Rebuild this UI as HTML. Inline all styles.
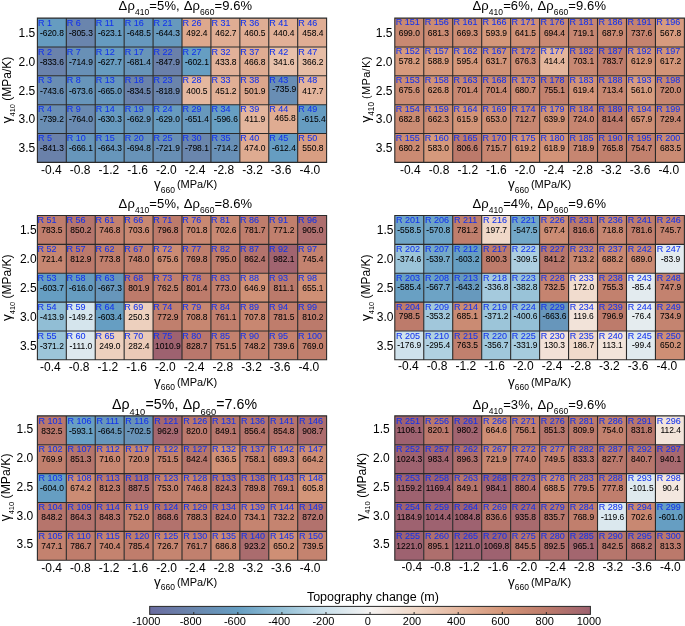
<!DOCTYPE html>
<html><head><meta charset="utf-8"><style>
html,body{margin:0;padding:0;background:#fff;width:685px;height:626px;overflow:hidden}
svg{display:block;font-family:"Liberation Sans",sans-serif;will-change:transform;filter:blur(0.3px)}
.rl{font-size:9px;fill:#1233ee;stroke:#1233ee;stroke-width:0.06px}
.vl{font-size:9px;fill:#000;stroke:#000;stroke-width:0.04px;text-anchor:middle}
.tk{font-size:12px;fill:#000}
.tt{font-size:13px;fill:#000;letter-spacing:0.1px;word-spacing:1px}
</style></head><body>
<svg width="685" height="626" viewBox="0 0 685 626">

<rect x="37.40" y="18.10" width="28.92" height="28.86" fill="#669cc0"/>
<rect x="37.40" y="46.96" width="28.92" height="28.86" fill="#6a82ab"/>
<rect x="37.40" y="75.82" width="28.92" height="28.86" fill="#698db3"/>
<rect x="37.40" y="104.68" width="28.92" height="28.86" fill="#698db3"/>
<rect x="37.40" y="133.54" width="28.92" height="28.86" fill="#6a81aa"/>
<rect x="66.32" y="18.10" width="28.92" height="28.86" fill="#6a85ad"/>
<rect x="66.32" y="46.96" width="28.92" height="28.86" fill="#6890b6"/>
<rect x="66.32" y="75.82" width="28.92" height="28.86" fill="#6795ba"/>
<rect x="66.32" y="104.68" width="28.92" height="28.86" fill="#698ab1"/>
<rect x="66.32" y="133.54" width="28.92" height="28.86" fill="#6796bb"/>
<rect x="95.24" y="18.10" width="28.92" height="28.86" fill="#669bc0"/>
<rect x="95.24" y="46.96" width="28.92" height="28.86" fill="#679bbf"/>
<rect x="95.24" y="75.82" width="28.92" height="28.86" fill="#6796bb"/>
<rect x="95.24" y="104.68" width="28.92" height="28.86" fill="#679abf"/>
<rect x="95.24" y="133.54" width="28.92" height="28.86" fill="#6796bb"/>
<rect x="124.16" y="18.10" width="28.92" height="28.86" fill="#6798bd"/>
<rect x="124.16" y="46.96" width="28.92" height="28.86" fill="#6894b9"/>
<rect x="124.16" y="75.82" width="28.92" height="28.86" fill="#6a82ab"/>
<rect x="124.16" y="104.68" width="28.92" height="28.86" fill="#6796bb"/>
<rect x="124.16" y="133.54" width="28.92" height="28.86" fill="#6893b8"/>
<rect x="153.08" y="18.10" width="28.92" height="28.86" fill="#6799bd"/>
<rect x="153.08" y="46.96" width="28.92" height="28.86" fill="#6a80aa"/>
<rect x="153.08" y="75.82" width="28.92" height="28.86" fill="#6a84ac"/>
<rect x="153.08" y="104.68" width="28.92" height="28.86" fill="#679bbf"/>
<rect x="153.08" y="133.54" width="28.92" height="28.86" fill="#688fb5"/>
<rect x="182.00" y="18.10" width="28.92" height="28.86" fill="#dda88d"/>
<rect x="182.00" y="46.96" width="28.92" height="28.86" fill="#669ec2"/>
<rect x="182.00" y="75.82" width="28.92" height="28.86" fill="#e4b79f"/>
<rect x="182.00" y="104.68" width="28.92" height="28.86" fill="#6798bd"/>
<rect x="182.00" y="133.54" width="28.92" height="28.86" fill="#6a86ad"/>
<rect x="210.92" y="18.10" width="28.92" height="28.86" fill="#dfad93"/>
<rect x="210.92" y="46.96" width="28.92" height="28.86" fill="#e1b199"/>
<rect x="210.92" y="75.82" width="28.92" height="28.86" fill="#e0af95"/>
<rect x="210.92" y="104.68" width="28.92" height="28.86" fill="#679fc2"/>
<rect x="210.92" y="133.54" width="28.92" height="28.86" fill="#6890b6"/>
<rect x="239.84" y="18.10" width="28.92" height="28.86" fill="#dfad94"/>
<rect x="239.84" y="46.96" width="28.92" height="28.86" fill="#dfac92"/>
<rect x="239.84" y="75.82" width="28.92" height="28.86" fill="#dca68c"/>
<rect x="239.84" y="104.68" width="28.92" height="28.86" fill="#e3b59d"/>
<rect x="239.84" y="133.54" width="28.92" height="28.86" fill="#deab91"/>
<rect x="268.76" y="18.10" width="28.92" height="28.86" fill="#e1b097"/>
<rect x="268.76" y="46.96" width="28.92" height="28.86" fill="#e8c1ab"/>
<rect x="268.76" y="75.82" width="28.92" height="28.86" fill="#698eb4"/>
<rect x="268.76" y="104.68" width="28.92" height="28.86" fill="#dfac92"/>
<rect x="268.76" y="133.54" width="28.92" height="28.86" fill="#669dc1"/>
<rect x="297.68" y="18.10" width="28.92" height="28.86" fill="#dfad94"/>
<rect x="297.68" y="46.96" width="28.92" height="28.86" fill="#e6bda6"/>
<rect x="297.68" y="75.82" width="28.92" height="28.86" fill="#e3b49c"/>
<rect x="297.68" y="104.68" width="28.92" height="28.86" fill="#669cc0"/>
<rect x="297.68" y="133.54" width="28.92" height="28.86" fill="#d89e82"/>
<path d="M37.40 17.60V162.90M66.32 17.60V162.90M95.24 17.60V162.90M124.16 17.60V162.90M153.08 17.60V162.90M182.00 17.60V162.90M210.92 17.60V162.90M239.84 17.60V162.90M268.76 17.60V162.90M297.68 17.60V162.90M326.60 17.60V162.90M36.90 18.10H327.10M36.90 46.96H327.10M36.90 75.82H327.10M36.90 104.68H327.10M36.90 133.54H327.10M36.90 162.40H327.10" stroke="#2a2a2a" stroke-width="1.1" fill="none"/>
<text class="rl" x="37.90" y="25.70">R 1</text>
<text class="vl" transform="translate(51.86 35.90) scale(0.94 1)">-620.8</text>
<text class="rl" x="37.90" y="54.56">R 2</text>
<text class="vl" transform="translate(51.86 64.76) scale(0.94 1)">-833.6</text>
<text class="rl" x="37.90" y="83.42">R 3</text>
<text class="vl" transform="translate(51.86 93.62) scale(0.94 1)">-743.6</text>
<text class="rl" x="37.90" y="112.28">R 4</text>
<text class="vl" transform="translate(51.86 122.48) scale(0.94 1)">-739.2</text>
<text class="rl" x="37.90" y="141.14">R 5</text>
<text class="vl" transform="translate(51.86 151.34) scale(0.94 1)">-841.3</text>
<text class="rl" x="66.82" y="25.70">R 6</text>
<text class="vl" transform="translate(80.86 35.90) scale(0.94 1)">-805.3</text>
<text class="rl" x="66.82" y="54.56">R 7</text>
<text class="vl" transform="translate(80.86 64.76) scale(0.94 1)">-714.9</text>
<text class="rl" x="66.82" y="83.42">R 8</text>
<text class="vl" transform="translate(80.86 93.62) scale(0.94 1)">-673.6</text>
<text class="rl" x="66.82" y="112.28">R 9</text>
<text class="vl" transform="translate(80.86 122.48) scale(0.94 1)">-764.0</text>
<text class="rl" x="66.82" y="141.14">R 10</text>
<text class="vl" transform="translate(80.86 151.34) scale(0.94 1)">-666.1</text>
<text class="rl" x="95.74" y="25.70">R 11</text>
<text class="vl" transform="translate(109.86 35.90) scale(0.94 1)">-623.1</text>
<text class="rl" x="95.74" y="54.56">R 12</text>
<text class="vl" transform="translate(109.86 64.76) scale(0.94 1)">-627.7</text>
<text class="rl" x="95.74" y="83.42">R 13</text>
<text class="vl" transform="translate(109.86 93.62) scale(0.94 1)">-665.0</text>
<text class="rl" x="95.74" y="112.28">R 14</text>
<text class="vl" transform="translate(109.86 122.48) scale(0.94 1)">-630.3</text>
<text class="rl" x="95.74" y="141.14">R 15</text>
<text class="vl" transform="translate(109.86 151.34) scale(0.94 1)">-664.3</text>
<text class="rl" x="124.66" y="25.70">R 16</text>
<text class="vl" transform="translate(138.86 35.90) scale(0.94 1)">-648.5</text>
<text class="rl" x="124.66" y="54.56">R 17</text>
<text class="vl" transform="translate(138.86 64.76) scale(0.94 1)">-681.4</text>
<text class="rl" x="124.66" y="83.42">R 18</text>
<text class="vl" transform="translate(138.86 93.62) scale(0.94 1)">-834.5</text>
<text class="rl" x="124.66" y="112.28">R 19</text>
<text class="vl" transform="translate(138.86 122.48) scale(0.94 1)">-662.9</text>
<text class="rl" x="124.66" y="141.14">R 20</text>
<text class="vl" transform="translate(138.86 151.34) scale(0.94 1)">-694.8</text>
<text class="rl" x="153.58" y="25.70">R 21</text>
<text class="vl" transform="translate(167.86 35.90) scale(0.94 1)">-644.3</text>
<text class="rl" x="153.58" y="54.56">R 22</text>
<text class="vl" transform="translate(167.86 64.76) scale(0.94 1)">-847.9</text>
<text class="rl" x="153.58" y="83.42">R 23</text>
<text class="vl" transform="translate(167.86 93.62) scale(0.94 1)">-818.9</text>
<text class="rl" x="153.58" y="112.28">R 24</text>
<text class="vl" transform="translate(167.86 122.48) scale(0.94 1)">-629.0</text>
<text class="rl" x="153.58" y="141.14">R 25</text>
<text class="vl" transform="translate(167.86 151.34) scale(0.94 1)">-721.9</text>
<text class="rl" x="182.50" y="25.70">R 26</text>
<text class="vl" transform="translate(196.86 35.90) scale(0.94 1)">492.4</text>
<text class="rl" x="182.50" y="54.56">R 27</text>
<text class="vl" transform="translate(196.86 64.76) scale(0.94 1)">-602.1</text>
<text class="rl" x="182.50" y="83.42">R 28</text>
<text class="vl" transform="translate(196.86 93.62) scale(0.94 1)">400.5</text>
<text class="rl" x="182.50" y="112.28">R 29</text>
<text class="vl" transform="translate(196.86 122.48) scale(0.94 1)">-651.4</text>
<text class="rl" x="182.50" y="141.14">R 30</text>
<text class="vl" transform="translate(196.86 151.34) scale(0.94 1)">-798.1</text>
<text class="rl" x="211.42" y="25.70">R 31</text>
<text class="vl" transform="translate(225.86 35.90) scale(0.94 1)">462.7</text>
<text class="rl" x="211.42" y="54.56">R 32</text>
<text class="vl" transform="translate(225.86 64.76) scale(0.94 1)">433.8</text>
<text class="rl" x="211.42" y="83.42">R 33</text>
<text class="vl" transform="translate(225.86 93.62) scale(0.94 1)">451.2</text>
<text class="rl" x="211.42" y="112.28">R 34</text>
<text class="vl" transform="translate(225.86 122.48) scale(0.94 1)">-596.6</text>
<text class="rl" x="211.42" y="141.14">R 35</text>
<text class="vl" transform="translate(225.86 151.34) scale(0.94 1)">-714.2</text>
<text class="rl" x="240.34" y="25.70">R 36</text>
<text class="vl" transform="translate(254.86 35.90) scale(0.94 1)">460.5</text>
<text class="rl" x="240.34" y="54.56">R 37</text>
<text class="vl" transform="translate(254.86 64.76) scale(0.94 1)">466.8</text>
<text class="rl" x="240.34" y="83.42">R 38</text>
<text class="vl" transform="translate(254.86 93.62) scale(0.94 1)">501.9</text>
<text class="rl" x="240.34" y="112.28">R 39</text>
<text class="vl" transform="translate(254.86 122.48) scale(0.94 1)">411.9</text>
<text class="rl" x="240.34" y="141.14">R 40</text>
<text class="vl" transform="translate(254.86 151.34) scale(0.94 1)">474.0</text>
<text class="rl" x="269.26" y="25.70">R 41</text>
<text class="vl" transform="translate(283.86 35.90) scale(0.94 1)">440.4</text>
<text class="rl" x="269.26" y="54.56">R 42</text>
<text class="vl" transform="translate(283.86 64.76) scale(0.94 1)">341.6</text>
<text class="rl" x="269.26" y="83.42">R 43</text>
<text class="vl" transform="translate(284.21 91.62) scale(0.94 1)">-735.9</text>
<text class="rl" x="269.26" y="112.28">R 44</text>
<text class="vl" transform="translate(285.16 120.98) scale(0.94 1)">465.8</text>
<text class="rl" x="269.26" y="141.14">R 45</text>
<text class="vl" transform="translate(283.86 151.34) scale(0.94 1)">-612.4</text>
<text class="rl" x="298.18" y="25.70">R 46</text>
<text class="vl" transform="translate(312.86 35.90) scale(0.94 1)">458.4</text>
<text class="rl" x="298.18" y="54.56">R 47</text>
<text class="vl" transform="translate(312.86 64.76) scale(0.94 1)">366.2</text>
<text class="rl" x="298.18" y="83.42">R 48</text>
<text class="vl" transform="translate(312.86 93.62) scale(0.94 1)">417.7</text>
<text class="rl" x="298.18" y="112.28">R 49</text>
<text class="vl" transform="translate(313.66 122.48) scale(0.94 1)">-615.4</text>
<text class="rl" x="298.18" y="141.14">R 50</text>
<text class="vl" transform="translate(312.86 151.34) scale(0.94 1)">550.8</text>
<text class="tk" text-anchor="middle" x="51.45" y="173.60">-0.4</text>
<text class="tk" text-anchor="middle" x="80.17" y="173.60">-0.8</text>
<text class="tk" text-anchor="middle" x="108.89" y="173.60">-1.2</text>
<text class="tk" text-anchor="middle" x="137.61" y="173.60">-1.6</text>
<text class="tk" text-anchor="middle" x="166.33" y="173.60">-2.0</text>
<text class="tk" text-anchor="middle" x="195.05" y="173.60">-2.4</text>
<text class="tk" text-anchor="middle" x="223.77" y="173.60">-2.8</text>
<text class="tk" text-anchor="middle" x="252.49" y="173.60">-3.2</text>
<text class="tk" text-anchor="middle" x="281.21" y="173.60">-3.6</text>
<text class="tk" text-anchor="middle" x="309.93" y="173.60">-4.0</text>
<text class="tk" text-anchor="end" x="35.20" y="36.83">1.5</text>
<text class="tk" text-anchor="end" x="35.20" y="65.69">2.0</text>
<text class="tk" text-anchor="end" x="35.20" y="94.55">2.5</text>
<text class="tk" text-anchor="end" x="35.20" y="123.41">3.0</text>
<text class="tk" text-anchor="end" x="35.20" y="152.27">3.5</text>
<text x="154.10" y="188.20" fill="#000"><tspan font-size="13.5">γ</tspan><tspan font-size="8.5" dy="4.3">660</tspan><tspan font-size="11" dx="-1.2" dy="-4.3"> (MPa/K)</tspan></text>
<text transform="translate(11.40 90.00) rotate(-90) scale(1.000)" text-anchor="middle" fill="#000"><tspan font-size="13.5">γ</tspan><tspan font-size="7.4" dy="3.6">410</tspan><tspan font-size="12" dy="-3.6"> (MPa/K)</tspan></text>
<text class="tt" x="118.60" y="10.00" style="font-size:13.00px">Δρ<tspan font-size="8.50" dy="5.00">410</tspan><tspan dy="-5.00">=5%, Δρ</tspan><tspan font-size="8.50" dy="5.00">660</tspan><tspan dy="-5.00">=9.6%</tspan></text>
<rect x="394.80" y="18.10" width="28.96" height="28.86" fill="#c98972"/>
<rect x="394.80" y="46.96" width="28.96" height="28.86" fill="#d69a7d"/>
<rect x="394.80" y="75.82" width="28.96" height="28.86" fill="#cb8c74"/>
<rect x="394.80" y="104.68" width="28.96" height="28.86" fill="#ca8b73"/>
<rect x="394.80" y="133.54" width="28.96" height="28.86" fill="#cb8b73"/>
<rect x="423.76" y="18.10" width="28.96" height="28.86" fill="#cb8b73"/>
<rect x="423.76" y="46.96" width="28.96" height="28.86" fill="#d5987b"/>
<rect x="423.76" y="75.82" width="28.96" height="28.86" fill="#d19277"/>
<rect x="423.76" y="104.68" width="28.96" height="28.86" fill="#cd8e75"/>
<rect x="423.76" y="133.54" width="28.96" height="28.86" fill="#d5997c"/>
<rect x="452.72" y="18.10" width="28.96" height="28.86" fill="#cc8d74"/>
<rect x="452.72" y="46.96" width="28.96" height="28.86" fill="#d4977a"/>
<rect x="452.72" y="75.82" width="28.96" height="28.86" fill="#c88872"/>
<rect x="452.72" y="104.68" width="28.96" height="28.86" fill="#d29478"/>
<rect x="452.72" y="133.54" width="28.96" height="28.86" fill="#bc7a6b"/>
<rect x="481.68" y="18.10" width="28.96" height="28.86" fill="#d4977a"/>
<rect x="481.68" y="46.96" width="28.96" height="28.86" fill="#d09277"/>
<rect x="481.68" y="75.82" width="28.96" height="28.86" fill="#c88872"/>
<rect x="481.68" y="104.68" width="28.96" height="28.86" fill="#ce8f75"/>
<rect x="481.68" y="133.54" width="28.96" height="28.86" fill="#c78671"/>
<rect x="510.64" y="18.10" width="28.96" height="28.86" fill="#cf9076"/>
<rect x="510.64" y="46.96" width="28.96" height="28.86" fill="#cb8c74"/>
<rect x="510.64" y="75.82" width="28.96" height="28.86" fill="#cb8b73"/>
<rect x="510.64" y="104.68" width="28.96" height="28.86" fill="#c78771"/>
<rect x="510.64" y="133.54" width="28.96" height="28.86" fill="#d29378"/>
<rect x="539.60" y="18.10" width="28.96" height="28.86" fill="#c98972"/>
<rect x="539.60" y="46.96" width="28.96" height="28.86" fill="#e3b59c"/>
<rect x="539.60" y="75.82" width="28.96" height="28.86" fill="#c2816e"/>
<rect x="539.60" y="104.68" width="28.96" height="28.86" fill="#cf9176"/>
<rect x="539.60" y="133.54" width="28.96" height="28.86" fill="#d29378"/>
<rect x="568.56" y="18.10" width="28.96" height="28.86" fill="#c68671"/>
<rect x="568.56" y="46.96" width="28.96" height="28.86" fill="#c88872"/>
<rect x="568.56" y="75.82" width="28.96" height="28.86" fill="#d29378"/>
<rect x="568.56" y="104.68" width="28.96" height="28.86" fill="#c68570"/>
<rect x="568.56" y="133.54" width="28.96" height="28.86" fill="#c68671"/>
<rect x="597.52" y="18.10" width="28.96" height="28.86" fill="#ca8a73"/>
<rect x="597.52" y="46.96" width="28.96" height="28.86" fill="#bf7d6c"/>
<rect x="597.52" y="75.82" width="28.96" height="28.86" fill="#c78771"/>
<rect x="597.52" y="104.68" width="28.96" height="28.86" fill="#bb796b"/>
<rect x="597.52" y="133.54" width="28.96" height="28.86" fill="#c1806d"/>
<rect x="626.48" y="18.10" width="28.96" height="28.86" fill="#c4836f"/>
<rect x="626.48" y="46.96" width="28.96" height="28.86" fill="#d39478"/>
<rect x="626.48" y="75.82" width="28.96" height="28.86" fill="#d79c80"/>
<rect x="626.48" y="104.68" width="28.96" height="28.86" fill="#cd8e75"/>
<rect x="626.48" y="133.54" width="28.96" height="28.86" fill="#c2816e"/>
<rect x="655.44" y="18.10" width="28.96" height="28.86" fill="#d79b7f"/>
<rect x="655.44" y="46.96" width="28.96" height="28.86" fill="#d29478"/>
<rect x="655.44" y="75.82" width="28.96" height="28.86" fill="#c68671"/>
<rect x="655.44" y="104.68" width="28.96" height="28.86" fill="#c58570"/>
<rect x="655.44" y="133.54" width="28.96" height="28.86" fill="#ca8b73"/>
<path d="M394.80 17.60V162.90M423.76 17.60V162.90M452.72 17.60V162.90M481.68 17.60V162.90M510.64 17.60V162.90M539.60 17.60V162.90M568.56 17.60V162.90M597.52 17.60V162.90M626.48 17.60V162.90M655.44 17.60V162.90M684.40 17.60V162.90M394.30 18.10H684.90M394.30 46.96H684.90M394.30 75.82H684.90M394.30 104.68H684.90M394.30 133.54H684.90M394.30 162.40H684.90" stroke="#2a2a2a" stroke-width="1.1" fill="none"/>
<text class="rl" x="395.70" y="25.10">R 151</text>
<text class="vl" transform="translate(409.28 35.60) scale(0.94 1)">699.0</text>
<text class="rl" x="395.70" y="53.96">R 152</text>
<text class="vl" transform="translate(409.28 64.46) scale(0.94 1)">578.2</text>
<text class="rl" x="395.70" y="82.82">R 153</text>
<text class="vl" transform="translate(409.28 93.32) scale(0.94 1)">675.6</text>
<text class="rl" x="395.70" y="111.68">R 154</text>
<text class="vl" transform="translate(409.28 122.18) scale(0.94 1)">682.8</text>
<text class="rl" x="395.70" y="140.54">R 155</text>
<text class="vl" transform="translate(409.28 151.04) scale(0.94 1)">680.2</text>
<text class="rl" x="424.66" y="25.10">R 156</text>
<text class="vl" transform="translate(438.32 35.60) scale(0.94 1)">681.3</text>
<text class="rl" x="424.66" y="53.96">R 157</text>
<text class="vl" transform="translate(438.32 64.46) scale(0.94 1)">588.9</text>
<text class="rl" x="424.66" y="82.82">R 158</text>
<text class="vl" transform="translate(438.32 93.32) scale(0.94 1)">626.8</text>
<text class="rl" x="424.66" y="111.68">R 159</text>
<text class="vl" transform="translate(438.32 122.18) scale(0.94 1)">662.3</text>
<text class="rl" x="424.66" y="140.54">R 160</text>
<text class="vl" transform="translate(438.32 151.04) scale(0.94 1)">583.0</text>
<text class="rl" x="453.62" y="25.10">R 161</text>
<text class="vl" transform="translate(467.36 35.60) scale(0.94 1)">669.3</text>
<text class="rl" x="453.62" y="53.96">R 162</text>
<text class="vl" transform="translate(467.36 64.46) scale(0.94 1)">595.4</text>
<text class="rl" x="453.62" y="82.82">R 163</text>
<text class="vl" transform="translate(467.36 93.32) scale(0.94 1)">701.4</text>
<text class="rl" x="453.62" y="111.68">R 164</text>
<text class="vl" transform="translate(467.36 122.18) scale(0.94 1)">615.9</text>
<text class="rl" x="453.62" y="140.54">R 165</text>
<text class="vl" transform="translate(467.36 151.04) scale(0.94 1)">806.6</text>
<text class="rl" x="482.58" y="25.10">R 166</text>
<text class="vl" transform="translate(496.40 35.60) scale(0.94 1)">593.9</text>
<text class="rl" x="482.58" y="53.96">R 167</text>
<text class="vl" transform="translate(496.40 64.46) scale(0.94 1)">631.7</text>
<text class="rl" x="482.58" y="82.82">R 168</text>
<text class="vl" transform="translate(496.40 93.32) scale(0.94 1)">701.4</text>
<text class="rl" x="482.58" y="111.68">R 169</text>
<text class="vl" transform="translate(496.40 122.18) scale(0.94 1)">653.0</text>
<text class="rl" x="482.58" y="140.54">R 170</text>
<text class="vl" transform="translate(496.40 151.04) scale(0.94 1)">715.7</text>
<text class="rl" x="511.54" y="25.10">R 171</text>
<text class="vl" transform="translate(525.44 35.60) scale(0.94 1)">641.5</text>
<text class="rl" x="511.54" y="53.96">R 172</text>
<text class="vl" transform="translate(525.44 64.46) scale(0.94 1)">676.3</text>
<text class="rl" x="511.54" y="82.82">R 173</text>
<text class="vl" transform="translate(525.44 93.32) scale(0.94 1)">680.7</text>
<text class="rl" x="511.54" y="111.68">R 174</text>
<text class="vl" transform="translate(525.44 122.18) scale(0.94 1)">712.7</text>
<text class="rl" x="511.54" y="140.54">R 175</text>
<text class="vl" transform="translate(525.44 151.04) scale(0.94 1)">619.2</text>
<text class="rl" x="540.50" y="25.10">R 176</text>
<text class="vl" transform="translate(554.48 35.60) scale(0.94 1)">694.4</text>
<text class="rl" x="540.50" y="53.96">R 177</text>
<text class="vl" transform="translate(554.48 64.46) scale(0.94 1)">414.4</text>
<text class="rl" x="540.50" y="82.82">R 178</text>
<text class="vl" transform="translate(554.48 93.32) scale(0.94 1)">755.1</text>
<text class="rl" x="540.50" y="111.68">R 179</text>
<text class="vl" transform="translate(554.48 122.18) scale(0.94 1)">639.9</text>
<text class="rl" x="540.50" y="140.54">R 180</text>
<text class="vl" transform="translate(554.48 151.04) scale(0.94 1)">618.9</text>
<text class="rl" x="569.46" y="25.10">R 181</text>
<text class="vl" transform="translate(583.52 35.60) scale(0.94 1)">719.1</text>
<text class="rl" x="569.46" y="53.96">R 182</text>
<text class="vl" transform="translate(583.52 64.46) scale(0.94 1)">703.1</text>
<text class="rl" x="569.46" y="82.82">R 183</text>
<text class="vl" transform="translate(583.52 93.32) scale(0.94 1)">619.4</text>
<text class="rl" x="569.46" y="111.68">R 184</text>
<text class="vl" transform="translate(583.52 122.18) scale(0.94 1)">724.0</text>
<text class="rl" x="569.46" y="140.54">R 185</text>
<text class="vl" transform="translate(583.52 151.04) scale(0.94 1)">718.9</text>
<text class="rl" x="598.42" y="25.10">R 186</text>
<text class="vl" transform="translate(612.56 35.60) scale(0.94 1)">687.9</text>
<text class="rl" x="598.42" y="53.96">R 187</text>
<text class="vl" transform="translate(612.56 64.46) scale(0.94 1)">783.7</text>
<text class="rl" x="598.42" y="82.82">R 188</text>
<text class="vl" transform="translate(612.56 93.32) scale(0.94 1)">713.4</text>
<text class="rl" x="598.42" y="111.68">R 189</text>
<text class="vl" transform="translate(612.56 122.18) scale(0.94 1)">814.4</text>
<text class="rl" x="598.42" y="140.54">R 190</text>
<text class="vl" transform="translate(612.56 151.04) scale(0.94 1)">765.8</text>
<text class="rl" x="627.38" y="25.10">R 191</text>
<text class="vl" transform="translate(641.60 35.60) scale(0.94 1)">737.6</text>
<text class="rl" x="627.38" y="53.96">R 192</text>
<text class="vl" transform="translate(641.60 64.46) scale(0.94 1)">612.9</text>
<text class="rl" x="627.38" y="82.82">R 193</text>
<text class="vl" transform="translate(641.60 93.32) scale(0.94 1)">561.0</text>
<text class="rl" x="627.38" y="111.68">R 194</text>
<text class="vl" transform="translate(641.60 122.18) scale(0.94 1)">657.9</text>
<text class="rl" x="627.38" y="140.54">R 195</text>
<text class="vl" transform="translate(641.60 151.04) scale(0.94 1)">754.7</text>
<text class="rl" x="656.34" y="25.10">R 196</text>
<text class="vl" transform="translate(670.64 35.60) scale(0.94 1)">567.8</text>
<text class="rl" x="656.34" y="53.96">R 197</text>
<text class="vl" transform="translate(670.64 64.46) scale(0.94 1)">617.2</text>
<text class="rl" x="656.34" y="82.82">R 198</text>
<text class="vl" transform="translate(670.64 93.32) scale(0.94 1)">720.0</text>
<text class="rl" x="656.34" y="111.68">R 199</text>
<text class="vl" transform="translate(670.64 122.18) scale(0.94 1)">729.4</text>
<text class="rl" x="656.34" y="140.54">R 200</text>
<text class="vl" transform="translate(670.64 151.04) scale(0.94 1)">683.5</text>
<text class="tk" text-anchor="middle" x="410.30" y="173.80">-0.4</text>
<text class="tk" text-anchor="middle" x="439.02" y="173.80">-0.8</text>
<text class="tk" text-anchor="middle" x="467.74" y="173.80">-1.2</text>
<text class="tk" text-anchor="middle" x="496.46" y="173.80">-1.6</text>
<text class="tk" text-anchor="middle" x="525.18" y="173.80">-2.0</text>
<text class="tk" text-anchor="middle" x="553.90" y="173.80">-2.4</text>
<text class="tk" text-anchor="middle" x="582.62" y="173.80">-2.8</text>
<text class="tk" text-anchor="middle" x="611.34" y="173.80">-3.2</text>
<text class="tk" text-anchor="middle" x="640.06" y="173.80">-3.6</text>
<text class="tk" text-anchor="middle" x="668.78" y="173.80">-4.0</text>
<text class="tk" text-anchor="end" x="392.40" y="36.83">1.5</text>
<text class="tk" text-anchor="end" x="392.40" y="65.69">2.0</text>
<text class="tk" text-anchor="end" x="392.40" y="94.55">2.5</text>
<text class="tk" text-anchor="end" x="392.40" y="123.41">3.0</text>
<text class="tk" text-anchor="end" x="392.40" y="152.27">3.5</text>
<text x="508.10" y="188.20" fill="#000"><tspan font-size="13.5">γ</tspan><tspan font-size="8.5" dy="4.3">660</tspan><tspan font-size="11" dx="-1.2" dy="-4.3"> (MPa/K)</tspan></text>
<text transform="translate(369.70 89.40) rotate(-90) scale(1.000)" text-anchor="middle" fill="#000"><tspan font-size="13.5">γ</tspan><tspan font-size="8.3" dy="4.2">410</tspan><tspan font-size="11" letter-spacing="0.35" dx="-0.6" dy="-4.2"> (MPa/K)</tspan></text>
<text class="tt" x="472.40" y="10.00" style="font-size:13.00px">Δρ<tspan font-size="8.50" dy="5.00">410</tspan><tspan dy="-5.00">=6%, Δρ</tspan><tspan font-size="8.50" dy="5.00">660</tspan><tspan dy="-5.00">=9.6%</tspan></text>
<rect x="37.40" y="215.50" width="28.92" height="28.86" fill="#bf7d6c"/>
<rect x="37.40" y="244.36" width="28.92" height="28.86" fill="#c68671"/>
<rect x="37.40" y="273.22" width="28.92" height="28.86" fill="#669ec2"/>
<rect x="37.40" y="302.08" width="28.92" height="28.86" fill="#91bed5"/>
<rect x="37.40" y="330.94" width="28.92" height="28.86" fill="#9cc5d9"/>
<rect x="66.32" y="215.50" width="28.92" height="28.86" fill="#b5756c"/>
<rect x="66.32" y="244.36" width="28.92" height="28.86" fill="#bb796b"/>
<rect x="66.32" y="273.22" width="28.92" height="28.86" fill="#669cc0"/>
<rect x="66.32" y="302.08" width="28.92" height="28.86" fill="#d5e5ed"/>
<rect x="66.32" y="330.94" width="28.92" height="28.86" fill="#dde8ee"/>
<rect x="95.24" y="215.50" width="28.92" height="28.86" fill="#c3826f"/>
<rect x="95.24" y="244.36" width="28.92" height="28.86" fill="#c07f6d"/>
<rect x="95.24" y="273.22" width="28.92" height="28.86" fill="#6796bb"/>
<rect x="95.24" y="302.08" width="28.92" height="28.86" fill="#669ec2"/>
<rect x="95.24" y="330.94" width="28.92" height="28.86" fill="#edd0be"/>
<rect x="124.16" y="215.50" width="28.92" height="28.86" fill="#c88872"/>
<rect x="124.16" y="244.36" width="28.92" height="28.86" fill="#c3826f"/>
<rect x="124.16" y="273.22" width="28.92" height="28.86" fill="#bd7b6b"/>
<rect x="124.16" y="302.08" width="28.92" height="28.86" fill="#edd0be"/>
<rect x="124.16" y="330.94" width="28.92" height="28.86" fill="#ebcab7"/>
<rect x="153.08" y="215.50" width="28.92" height="28.86" fill="#bd7b6b"/>
<rect x="153.08" y="244.36" width="28.92" height="28.86" fill="#cb8c74"/>
<rect x="153.08" y="273.22" width="28.92" height="28.86" fill="#c1806e"/>
<rect x="153.08" y="302.08" width="28.92" height="28.86" fill="#c07f6d"/>
<rect x="153.08" y="330.94" width="28.92" height="28.86" fill="#9e6270"/>
<rect x="182.00" y="215.50" width="28.92" height="28.86" fill="#c88872"/>
<rect x="182.00" y="244.36" width="28.92" height="28.86" fill="#c07f6d"/>
<rect x="182.00" y="273.22" width="28.92" height="28.86" fill="#bd7b6b"/>
<rect x="182.00" y="302.08" width="28.92" height="28.86" fill="#c78771"/>
<rect x="182.00" y="330.94" width="28.92" height="28.86" fill="#b9776c"/>
<rect x="210.92" y="215.50" width="28.92" height="28.86" fill="#c88872"/>
<rect x="210.92" y="244.36" width="28.92" height="28.86" fill="#be7c6b"/>
<rect x="210.92" y="273.22" width="28.92" height="28.86" fill="#c07f6d"/>
<rect x="210.92" y="302.08" width="28.92" height="28.86" fill="#c1806e"/>
<rect x="210.92" y="330.94" width="28.92" height="28.86" fill="#c3826e"/>
<rect x="239.84" y="215.50" width="28.92" height="28.86" fill="#bf7d6c"/>
<rect x="239.84" y="244.36" width="28.92" height="28.86" fill="#b3736d"/>
<rect x="239.84" y="273.22" width="28.92" height="28.86" fill="#cf9076"/>
<rect x="239.84" y="302.08" width="28.92" height="28.86" fill="#c88771"/>
<rect x="239.84" y="330.94" width="28.92" height="28.86" fill="#c3826f"/>
<rect x="268.76" y="215.50" width="28.92" height="28.86" fill="#c07f6d"/>
<rect x="268.76" y="244.36" width="28.92" height="28.86" fill="#a16470"/>
<rect x="268.76" y="273.22" width="28.92" height="28.86" fill="#bb7a6b"/>
<rect x="268.76" y="302.08" width="28.92" height="28.86" fill="#bf7d6c"/>
<rect x="268.76" y="330.94" width="28.92" height="28.86" fill="#c4836f"/>
<rect x="297.68" y="215.50" width="28.92" height="28.86" fill="#ad6e6e"/>
<rect x="297.68" y="244.36" width="28.92" height="28.86" fill="#c3826f"/>
<rect x="297.68" y="273.22" width="28.92" height="28.86" fill="#ce8f75"/>
<rect x="297.68" y="302.08" width="28.92" height="28.86" fill="#bb7a6b"/>
<rect x="297.68" y="330.94" width="28.92" height="28.86" fill="#c17f6d"/>
<path d="M37.40 215.00V360.30M66.32 215.00V360.30M95.24 215.00V360.30M124.16 215.00V360.30M153.08 215.00V360.30M182.00 215.00V360.30M210.92 215.00V360.30M239.84 215.00V360.30M268.76 215.00V360.30M297.68 215.00V360.30M326.60 215.00V360.30M36.90 215.50H327.10M36.90 244.36H327.10M36.90 273.22H327.10M36.90 302.08H327.10M36.90 330.94H327.10M36.90 359.80H327.10" stroke="#2a2a2a" stroke-width="1.1" fill="none"/>
<text class="rl" x="37.60" y="223.10">R 51</text>
<text class="vl" transform="translate(51.86 233.30) scale(0.94 1)">783.5</text>
<text class="rl" x="37.60" y="251.96">R 52</text>
<text class="vl" transform="translate(51.86 262.16) scale(0.94 1)">721.4</text>
<text class="rl" x="37.60" y="280.82">R 53</text>
<text class="vl" transform="translate(51.86 291.02) scale(0.94 1)">-603.7</text>
<text class="rl" x="37.60" y="309.68">R 54</text>
<text class="vl" transform="translate(51.86 319.88) scale(0.94 1)">-413.9</text>
<text class="rl" x="37.60" y="338.54">R 55</text>
<text class="vl" transform="translate(51.86 348.74) scale(0.94 1)">-371.2</text>
<text class="rl" x="66.52" y="223.10">R 56</text>
<text class="vl" transform="translate(80.86 233.30) scale(0.94 1)">850.2</text>
<text class="rl" x="66.52" y="251.96">R 57</text>
<text class="vl" transform="translate(80.86 262.16) scale(0.94 1)">812.9</text>
<text class="rl" x="66.52" y="280.82">R 58</text>
<text class="vl" transform="translate(80.86 291.02) scale(0.94 1)">-616.0</text>
<text class="rl" x="66.52" y="309.68">R 59</text>
<text class="vl" transform="translate(80.86 319.88) scale(0.94 1)">-149.2</text>
<text class="rl" x="66.52" y="338.54">R 60</text>
<text class="vl" transform="translate(80.86 348.74) scale(0.94 1)">-111.0</text>
<text class="rl" x="95.44" y="223.10">R 61</text>
<text class="vl" transform="translate(109.86 233.30) scale(0.94 1)">746.8</text>
<text class="rl" x="95.44" y="251.96">R 62</text>
<text class="vl" transform="translate(109.86 262.16) scale(0.94 1)">773.8</text>
<text class="rl" x="95.44" y="280.82">R 63</text>
<text class="vl" transform="translate(109.86 291.02) scale(0.94 1)">-667.3</text>
<text class="rl" x="95.44" y="309.68">R 64</text>
<text class="vl" transform="translate(109.86 319.88) scale(0.94 1)">-603.4</text>
<text class="rl" x="95.44" y="338.54">R 65</text>
<text class="vl" transform="translate(109.86 348.74) scale(0.94 1)">249.0</text>
<text class="rl" x="124.36" y="223.10">R 66</text>
<text class="vl" transform="translate(138.86 233.30) scale(0.94 1)">703.6</text>
<text class="rl" x="124.36" y="251.96">R 67</text>
<text class="vl" transform="translate(138.86 262.16) scale(0.94 1)">748.0</text>
<text class="rl" x="124.36" y="280.82">R 68</text>
<text class="vl" transform="translate(138.86 291.02) scale(0.94 1)">801.9</text>
<text class="rl" x="124.36" y="309.68">R 69</text>
<text class="vl" transform="translate(138.86 319.88) scale(0.94 1)">250.3</text>
<text class="rl" x="124.36" y="338.54">R 70</text>
<text class="vl" transform="translate(138.86 348.74) scale(0.94 1)">282.4</text>
<text class="rl" x="153.28" y="223.10">R 71</text>
<text class="vl" transform="translate(167.86 233.30) scale(0.94 1)">796.8</text>
<text class="rl" x="153.28" y="251.96">R 72</text>
<text class="vl" transform="translate(167.86 262.16) scale(0.94 1)">675.6</text>
<text class="rl" x="153.28" y="280.82">R 73</text>
<text class="vl" transform="translate(167.86 291.02) scale(0.94 1)">762.5</text>
<text class="rl" x="153.28" y="309.68">R 74</text>
<text class="vl" transform="translate(167.86 319.88) scale(0.94 1)">772.9</text>
<text class="rl" x="153.28" y="338.54">R 75</text>
<text class="vl" transform="translate(167.86 348.74) scale(0.94 1)">1010.9</text>
<text class="rl" x="182.20" y="223.10">R 76</text>
<text class="vl" transform="translate(196.86 233.30) scale(0.94 1)">701.8</text>
<text class="rl" x="182.20" y="251.96">R 77</text>
<text class="vl" transform="translate(196.86 262.16) scale(0.94 1)">769.8</text>
<text class="rl" x="182.20" y="280.82">R 78</text>
<text class="vl" transform="translate(196.86 291.02) scale(0.94 1)">801.4</text>
<text class="rl" x="182.20" y="309.68">R 79</text>
<text class="vl" transform="translate(196.86 319.88) scale(0.94 1)">708.8</text>
<text class="rl" x="182.20" y="338.54">R 80</text>
<text class="vl" transform="translate(196.86 348.74) scale(0.94 1)">828.7</text>
<text class="rl" x="211.12" y="223.10">R 81</text>
<text class="vl" transform="translate(225.86 233.30) scale(0.94 1)">702.6</text>
<text class="rl" x="211.12" y="251.96">R 82</text>
<text class="vl" transform="translate(225.86 262.16) scale(0.94 1)">795.0</text>
<text class="rl" x="211.12" y="280.82">R 83</text>
<text class="vl" transform="translate(225.86 291.02) scale(0.94 1)">773.0</text>
<text class="rl" x="211.12" y="309.68">R 84</text>
<text class="vl" transform="translate(225.86 319.88) scale(0.94 1)">761.1</text>
<text class="rl" x="211.12" y="338.54">R 85</text>
<text class="vl" transform="translate(225.86 348.74) scale(0.94 1)">751.5</text>
<text class="rl" x="240.04" y="223.10">R 86</text>
<text class="vl" transform="translate(254.86 233.30) scale(0.94 1)">781.7</text>
<text class="rl" x="240.04" y="251.96">R 87</text>
<text class="vl" transform="translate(254.86 262.16) scale(0.94 1)">862.4</text>
<text class="rl" x="240.04" y="280.82">R 88</text>
<text class="vl" transform="translate(254.86 291.02) scale(0.94 1)">646.9</text>
<text class="rl" x="240.04" y="309.68">R 89</text>
<text class="vl" transform="translate(254.86 319.88) scale(0.94 1)">707.8</text>
<text class="rl" x="240.04" y="338.54">R 90</text>
<text class="vl" transform="translate(254.86 348.74) scale(0.94 1)">748.2</text>
<text class="rl" x="268.96" y="223.10">R 91</text>
<text class="vl" transform="translate(283.86 233.30) scale(0.94 1)">771.2</text>
<text class="rl" x="268.96" y="251.96">R 92</text>
<text class="vl" transform="translate(283.86 262.16) scale(0.94 1)">982.1</text>
<text class="rl" x="268.96" y="280.82">R 93</text>
<text class="vl" transform="translate(283.86 291.02) scale(0.94 1)">811.1</text>
<text class="rl" x="268.96" y="309.68">R 94</text>
<text class="vl" transform="translate(283.86 319.88) scale(0.94 1)">781.5</text>
<text class="rl" x="268.96" y="338.54">R 95</text>
<text class="vl" transform="translate(283.86 348.74) scale(0.94 1)">739.6</text>
<text class="rl" x="297.88" y="223.10">R 96</text>
<text class="vl" transform="translate(312.86 233.30) scale(0.94 1)">905.0</text>
<text class="rl" x="297.88" y="251.96">R 97</text>
<text class="vl" transform="translate(312.86 262.16) scale(0.94 1)">745.4</text>
<text class="rl" x="297.88" y="280.82">R 98</text>
<text class="vl" transform="translate(312.86 291.02) scale(0.94 1)">655.1</text>
<text class="rl" x="297.88" y="309.68">R 99</text>
<text class="vl" transform="translate(312.86 319.88) scale(0.94 1)">810.2</text>
<text class="rl" x="297.88" y="338.54">R 100</text>
<text class="vl" transform="translate(312.86 348.74) scale(0.94 1)">769.0</text>
<text class="tk" text-anchor="middle" x="50.45" y="370.70">-0.4</text>
<text class="tk" text-anchor="middle" x="79.17" y="370.70">-0.8</text>
<text class="tk" text-anchor="middle" x="107.89" y="370.70">-1.2</text>
<text class="tk" text-anchor="middle" x="136.61" y="370.70">-1.6</text>
<text class="tk" text-anchor="middle" x="165.33" y="370.70">-2.0</text>
<text class="tk" text-anchor="middle" x="194.05" y="370.70">-2.4</text>
<text class="tk" text-anchor="middle" x="222.77" y="370.70">-2.8</text>
<text class="tk" text-anchor="middle" x="251.49" y="370.70">-3.2</text>
<text class="tk" text-anchor="middle" x="280.21" y="370.70">-3.6</text>
<text class="tk" text-anchor="middle" x="308.93" y="370.70">-4.0</text>
<text class="tk" text-anchor="end" x="36.60" y="234.23">1.5</text>
<text class="tk" text-anchor="end" x="36.60" y="263.09">2.0</text>
<text class="tk" text-anchor="end" x="36.60" y="291.95">2.5</text>
<text class="tk" text-anchor="end" x="36.60" y="320.81">3.0</text>
<text class="tk" text-anchor="end" x="36.60" y="349.67">3.5</text>
<text x="154.10" y="385.60" fill="#000"><tspan font-size="13.5">γ</tspan><tspan font-size="8.5" dy="4.3">660</tspan><tspan font-size="11" dx="-1.2" dy="-4.3"> (MPa/K)</tspan></text>
<text transform="translate(11.40 287.75) rotate(-90) scale(1.000)" text-anchor="middle" fill="#000"><tspan font-size="13.5">γ</tspan><tspan font-size="7.4" dy="3.6">410</tspan><tspan font-size="12" dy="-3.6"> (MPa/K)</tspan></text>
<text class="tt" x="118.60" y="207.50" style="font-size:13.00px">Δρ<tspan font-size="8.50" dy="5.00">410</tspan><tspan dy="-5.00">=5%, Δρ</tspan><tspan font-size="8.50" dy="5.00">660</tspan><tspan dy="-5.00">=8.6%</tspan></text>
<rect x="394.80" y="215.50" width="28.96" height="28.86" fill="#70a5c6"/>
<rect x="394.80" y="244.36" width="28.96" height="28.86" fill="#9bc4d9"/>
<rect x="394.80" y="273.22" width="28.96" height="28.86" fill="#69a0c3"/>
<rect x="394.80" y="302.08" width="28.96" height="28.86" fill="#bd7b6b"/>
<rect x="394.80" y="330.94" width="28.96" height="28.86" fill="#cfe2ec"/>
<rect x="423.76" y="215.50" width="28.96" height="28.86" fill="#6da3c5"/>
<rect x="423.76" y="244.36" width="28.96" height="28.86" fill="#74a8c8"/>
<rect x="423.76" y="273.22" width="28.96" height="28.86" fill="#6da3c5"/>
<rect x="423.76" y="302.08" width="28.96" height="28.86" fill="#a1c7db"/>
<rect x="423.76" y="330.94" width="28.96" height="28.86" fill="#b0d1e1"/>
<rect x="452.72" y="215.50" width="28.96" height="28.86" fill="#bf7e6c"/>
<rect x="452.72" y="244.36" width="28.96" height="28.86" fill="#669ec2"/>
<rect x="452.72" y="273.22" width="28.96" height="28.86" fill="#6799bd"/>
<rect x="452.72" y="302.08" width="28.96" height="28.86" fill="#ca8b73"/>
<rect x="452.72" y="330.94" width="28.96" height="28.86" fill="#c1806e"/>
<rect x="481.68" y="215.50" width="28.96" height="28.86" fill="#f0d8c8"/>
<rect x="481.68" y="244.36" width="28.96" height="28.86" fill="#bd7b6b"/>
<rect x="481.68" y="273.22" width="28.96" height="28.86" fill="#a5cadd"/>
<rect x="481.68" y="302.08" width="28.96" height="28.86" fill="#9cc5d9"/>
<rect x="481.68" y="330.94" width="28.96" height="28.86" fill="#a0c7db"/>
<rect x="510.64" y="215.50" width="28.96" height="28.86" fill="#72a7c7"/>
<rect x="510.64" y="244.36" width="28.96" height="28.86" fill="#accee0"/>
<rect x="510.64" y="273.22" width="28.96" height="28.86" fill="#99c3d8"/>
<rect x="510.64" y="302.08" width="28.96" height="28.86" fill="#94c0d6"/>
<rect x="510.64" y="330.94" width="28.96" height="28.86" fill="#a6cbdd"/>
<rect x="539.60" y="215.50" width="28.96" height="28.86" fill="#cb8c74"/>
<rect x="539.60" y="244.36" width="28.96" height="28.86" fill="#b7766c"/>
<rect x="539.60" y="273.22" width="28.96" height="28.86" fill="#c58470"/>
<rect x="539.60" y="302.08" width="28.96" height="28.86" fill="#6796bb"/>
<rect x="539.60" y="330.94" width="28.96" height="28.86" fill="#f2e1d7"/>
<rect x="568.56" y="215.50" width="28.96" height="28.86" fill="#ba796b"/>
<rect x="568.56" y="244.36" width="28.96" height="28.86" fill="#c78771"/>
<rect x="568.56" y="273.22" width="28.96" height="28.86" fill="#f1dcce"/>
<rect x="568.56" y="302.08" width="28.96" height="28.86" fill="#f2e3d9"/>
<rect x="568.56" y="330.94" width="28.96" height="28.86" fill="#f0dacb"/>
<rect x="597.52" y="215.50" width="28.96" height="28.86" fill="#c68671"/>
<rect x="597.52" y="244.36" width="28.96" height="28.86" fill="#ca8a73"/>
<rect x="597.52" y="273.22" width="28.96" height="28.86" fill="#c2816e"/>
<rect x="597.52" y="302.08" width="28.96" height="28.86" fill="#bd7b6b"/>
<rect x="597.52" y="330.94" width="28.96" height="28.86" fill="#f2e4da"/>
<rect x="626.48" y="215.50" width="28.96" height="28.86" fill="#bf7d6c"/>
<rect x="626.48" y="244.36" width="28.96" height="28.86" fill="#ca8a73"/>
<rect x="626.48" y="273.22" width="28.96" height="28.86" fill="#e3ebef"/>
<rect x="626.48" y="302.08" width="28.96" height="28.86" fill="#e5ecef"/>
<rect x="626.48" y="330.94" width="28.96" height="28.86" fill="#e0eaef"/>
<rect x="655.44" y="215.50" width="28.96" height="28.86" fill="#c3826f"/>
<rect x="655.44" y="244.36" width="28.96" height="28.86" fill="#e3ebef"/>
<rect x="655.44" y="273.22" width="28.96" height="28.86" fill="#c3826f"/>
<rect x="655.44" y="302.08" width="28.96" height="28.86" fill="#c48470"/>
<rect x="655.44" y="330.94" width="28.96" height="28.86" fill="#ce8f75"/>
<path d="M394.80 215.00V360.30M423.76 215.00V360.30M452.72 215.00V360.30M481.68 215.00V360.30M510.64 215.00V360.30M539.60 215.00V360.30M568.56 215.00V360.30M597.52 215.00V360.30M626.48 215.00V360.30M655.44 215.00V360.30M684.40 215.00V360.30M394.30 215.50H684.90M394.30 244.36H684.90M394.30 273.22H684.90M394.30 302.08H684.90M394.30 330.94H684.90M394.30 359.80H684.90" stroke="#2a2a2a" stroke-width="1.1" fill="none"/>
<text class="rl" x="396.00" y="223.10">R 201</text>
<text class="vl" transform="translate(409.28 232.70) scale(0.94 1)">-558.5</text>
<text class="rl" x="396.00" y="251.96">R 202</text>
<text class="vl" transform="translate(409.28 261.56) scale(0.94 1)">-374.6</text>
<text class="rl" x="396.00" y="280.82">R 203</text>
<text class="vl" transform="translate(409.28 290.42) scale(0.94 1)">-585.4</text>
<text class="rl" x="396.00" y="309.68">R 204</text>
<text class="vl" transform="translate(409.28 319.28) scale(0.94 1)">798.5</text>
<text class="rl" x="396.00" y="338.54">R 205</text>
<text class="vl" transform="translate(409.28 348.14) scale(0.94 1)">-176.9</text>
<text class="rl" x="424.96" y="223.10">R 206</text>
<text class="vl" transform="translate(438.32 232.70) scale(0.94 1)">-570.8</text>
<text class="rl" x="424.96" y="251.96">R 207</text>
<text class="vl" transform="translate(438.32 261.56) scale(0.94 1)">-539.7</text>
<text class="rl" x="424.96" y="280.82">R 208</text>
<text class="vl" transform="translate(438.32 290.42) scale(0.94 1)">-567.7</text>
<text class="rl" x="424.96" y="309.68">R 209</text>
<text class="vl" transform="translate(438.32 319.28) scale(0.94 1)">-353.2</text>
<text class="rl" x="424.96" y="338.54">R 210</text>
<text class="vl" transform="translate(438.32 348.14) scale(0.94 1)">-295.4</text>
<text class="rl" x="453.92" y="223.10">R 211</text>
<text class="vl" transform="translate(467.36 232.70) scale(0.94 1)">781.2</text>
<text class="rl" x="453.92" y="251.96">R 212</text>
<text class="vl" transform="translate(467.36 261.56) scale(0.94 1)">-603.2</text>
<text class="rl" x="453.92" y="280.82">R 213</text>
<text class="vl" transform="translate(467.36 290.42) scale(0.94 1)">-643.2</text>
<text class="rl" x="453.92" y="309.68">R 214</text>
<text class="vl" transform="translate(467.36 319.28) scale(0.94 1)">685.1</text>
<text class="rl" x="453.92" y="338.54">R 215</text>
<text class="vl" transform="translate(467.36 348.14) scale(0.94 1)">763.5</text>
<text class="rl" x="482.88" y="223.10">R 216</text>
<text class="vl" transform="translate(496.40 232.70) scale(0.94 1)">197.7</text>
<text class="rl" x="482.88" y="251.96">R 217</text>
<text class="vl" transform="translate(496.40 261.56) scale(0.94 1)">800.3</text>
<text class="rl" x="482.88" y="280.82">R 218</text>
<text class="vl" transform="translate(496.40 290.42) scale(0.94 1)">-336.8</text>
<text class="rl" x="482.88" y="309.68">R 219</text>
<text class="vl" transform="translate(496.40 319.28) scale(0.94 1)">-371.2</text>
<text class="rl" x="482.88" y="338.54">R 220</text>
<text class="vl" transform="translate(496.40 348.14) scale(0.94 1)">-356.7</text>
<text class="rl" x="511.84" y="223.10">R 221</text>
<text class="vl" transform="translate(525.44 232.70) scale(0.94 1)">-547.5</text>
<text class="rl" x="511.84" y="251.96">R 222</text>
<text class="vl" transform="translate(525.44 261.56) scale(0.94 1)">-309.5</text>
<text class="rl" x="511.84" y="280.82">R 223</text>
<text class="vl" transform="translate(525.44 290.42) scale(0.94 1)">-382.8</text>
<text class="rl" x="511.84" y="309.68">R 224</text>
<text class="vl" transform="translate(525.44 319.28) scale(0.94 1)">-400.6</text>
<text class="rl" x="511.84" y="338.54">R 225</text>
<text class="vl" transform="translate(525.44 348.14) scale(0.94 1)">-331.9</text>
<text class="rl" x="540.80" y="223.10">R 226</text>
<text class="vl" transform="translate(554.48 232.70) scale(0.94 1)">677.4</text>
<text class="rl" x="540.80" y="251.96">R 227</text>
<text class="vl" transform="translate(554.48 261.56) scale(0.94 1)">841.2</text>
<text class="rl" x="540.80" y="280.82">R 228</text>
<text class="vl" transform="translate(554.48 290.42) scale(0.94 1)">732.5</text>
<text class="rl" x="540.80" y="309.68">R 229</text>
<text class="vl" transform="translate(554.48 319.28) scale(0.94 1)">-663.6</text>
<text class="rl" x="540.80" y="338.54">R 230</text>
<text class="vl" transform="translate(554.48 348.14) scale(0.94 1)">130.3</text>
<text class="rl" x="569.76" y="223.10">R 231</text>
<text class="vl" transform="translate(583.52 232.70) scale(0.94 1)">816.6</text>
<text class="rl" x="569.76" y="251.96">R 232</text>
<text class="vl" transform="translate(583.52 261.56) scale(0.94 1)">713.2</text>
<text class="rl" x="569.76" y="280.82">R 233</text>
<text class="vl" transform="translate(583.52 290.42) scale(0.94 1)">172.0</text>
<text class="rl" x="569.76" y="309.68">R 234</text>
<text class="vl" transform="translate(583.52 319.28) scale(0.94 1)">119.6</text>
<text class="rl" x="569.76" y="338.54">R 235</text>
<text class="vl" transform="translate(583.52 348.14) scale(0.94 1)">186.7</text>
<text class="rl" x="598.72" y="223.10">R 236</text>
<text class="vl" transform="translate(612.56 232.70) scale(0.94 1)">718.8</text>
<text class="rl" x="598.72" y="251.96">R 237</text>
<text class="vl" transform="translate(612.56 261.56) scale(0.94 1)">688.2</text>
<text class="rl" x="598.72" y="280.82">R 238</text>
<text class="vl" transform="translate(612.56 290.42) scale(0.94 1)">755.3</text>
<text class="rl" x="598.72" y="309.68">R 239</text>
<text class="vl" transform="translate(612.56 319.28) scale(0.94 1)">796.9</text>
<text class="rl" x="598.72" y="338.54">R 240</text>
<text class="vl" transform="translate(612.56 348.14) scale(0.94 1)">113.1</text>
<text class="rl" x="627.68" y="223.10">R 241</text>
<text class="vl" transform="translate(641.60 232.70) scale(0.94 1)">781.6</text>
<text class="rl" x="627.68" y="251.96">R 242</text>
<text class="vl" transform="translate(641.60 261.56) scale(0.94 1)">689.0</text>
<text class="rl" x="627.68" y="280.82">R 243</text>
<text class="vl" transform="translate(641.60 290.42) scale(0.94 1)">-85.4</text>
<text class="rl" x="627.68" y="309.68">R 244</text>
<text class="vl" transform="translate(641.60 319.28) scale(0.94 1)">-76.4</text>
<text class="rl" x="627.68" y="338.54">R 245</text>
<text class="vl" transform="translate(641.60 348.14) scale(0.94 1)">-99.4</text>
<text class="rl" x="656.64" y="223.10">R 246</text>
<text class="vl" transform="translate(670.64 232.70) scale(0.94 1)">745.7</text>
<text class="rl" x="656.64" y="251.96">R 247</text>
<text class="vl" transform="translate(670.64 261.56) scale(0.94 1)">-83.9</text>
<text class="rl" x="656.64" y="280.82">R 248</text>
<text class="vl" transform="translate(670.64 290.42) scale(0.94 1)">747.9</text>
<text class="rl" x="656.64" y="309.68">R 249</text>
<text class="vl" transform="translate(670.64 319.28) scale(0.94 1)">734.9</text>
<text class="rl" x="656.64" y="338.54">R 250</text>
<text class="vl" transform="translate(670.64 348.14) scale(0.94 1)">650.2</text>
<text class="tk" text-anchor="middle" x="408.40" y="369.90">-0.4</text>
<text class="tk" text-anchor="middle" x="437.12" y="369.90">-0.8</text>
<text class="tk" text-anchor="middle" x="465.84" y="369.90">-1.2</text>
<text class="tk" text-anchor="middle" x="494.56" y="369.90">-1.6</text>
<text class="tk" text-anchor="middle" x="523.28" y="369.90">-2.0</text>
<text class="tk" text-anchor="middle" x="552.00" y="369.90">-2.4</text>
<text class="tk" text-anchor="middle" x="580.72" y="369.90">-2.8</text>
<text class="tk" text-anchor="middle" x="609.44" y="369.90">-3.2</text>
<text class="tk" text-anchor="middle" x="638.16" y="369.90">-3.6</text>
<text class="tk" text-anchor="middle" x="666.88" y="369.90">-4.0</text>
<text class="tk" text-anchor="end" x="393.50" y="234.23">1.5</text>
<text class="tk" text-anchor="end" x="393.50" y="263.09">2.0</text>
<text class="tk" text-anchor="end" x="393.50" y="291.95">2.5</text>
<text class="tk" text-anchor="end" x="393.50" y="320.81">3.0</text>
<text class="tk" text-anchor="end" x="393.50" y="349.67">3.5</text>
<text x="508.10" y="385.60" fill="#000"><tspan font-size="13.5">γ</tspan><tspan font-size="8.5" dy="4.3">660</tspan><tspan font-size="11" dx="-1.2" dy="-4.3"> (MPa/K)</tspan></text>
<text transform="translate(370.30 287.75) rotate(-90) scale(1.000)" text-anchor="middle" fill="#000"><tspan font-size="13.5">γ</tspan><tspan font-size="7.4" dy="3.6">410</tspan><tspan font-size="12" dy="-3.6"> (MPa/K)</tspan></text>
<text class="tt" x="472.40" y="207.50" style="font-size:13.00px">Δρ<tspan font-size="8.50" dy="5.00">410</tspan><tspan dy="-5.00">=4%, Δρ</tspan><tspan font-size="8.50" dy="5.00">660</tspan><tspan dy="-5.00">=9.6%</tspan></text>
<rect x="37.40" y="415.90" width="28.92" height="28.86" fill="#b8776c"/>
<rect x="37.40" y="444.76" width="28.92" height="28.86" fill="#c07f6d"/>
<rect x="37.40" y="473.62" width="28.92" height="28.86" fill="#669ec2"/>
<rect x="37.40" y="502.48" width="28.92" height="28.86" fill="#b6756c"/>
<rect x="37.40" y="531.34" width="28.92" height="28.86" fill="#c3826f"/>
<rect x="66.32" y="415.90" width="28.92" height="28.86" fill="#689fc3"/>
<rect x="66.32" y="444.76" width="28.92" height="28.86" fill="#b5756c"/>
<rect x="66.32" y="473.62" width="28.92" height="28.86" fill="#cb8c74"/>
<rect x="66.32" y="502.48" width="28.92" height="28.86" fill="#b3736d"/>
<rect x="66.32" y="531.34" width="28.92" height="28.86" fill="#bf7d6c"/>
<rect x="95.24" y="415.90" width="28.92" height="28.86" fill="#6796bb"/>
<rect x="95.24" y="444.76" width="28.92" height="28.86" fill="#c78671"/>
<rect x="95.24" y="473.62" width="28.92" height="28.86" fill="#bb796b"/>
<rect x="95.24" y="502.48" width="28.92" height="28.86" fill="#b6756c"/>
<rect x="95.24" y="531.34" width="28.92" height="28.86" fill="#c4836f"/>
<rect x="124.16" y="415.90" width="28.92" height="28.86" fill="#6892b7"/>
<rect x="124.16" y="444.76" width="28.92" height="28.86" fill="#c68671"/>
<rect x="124.16" y="473.62" width="28.92" height="28.86" fill="#af706d"/>
<rect x="124.16" y="502.48" width="28.92" height="28.86" fill="#c3816e"/>
<rect x="124.16" y="531.34" width="28.92" height="28.86" fill="#bf7d6c"/>
<rect x="153.08" y="415.90" width="28.92" height="28.86" fill="#a4676f"/>
<rect x="153.08" y="444.76" width="28.92" height="28.86" fill="#c3826e"/>
<rect x="153.08" y="473.62" width="28.92" height="28.86" fill="#c2816e"/>
<rect x="153.08" y="502.48" width="28.92" height="28.86" fill="#b2726d"/>
<rect x="153.08" y="531.34" width="28.92" height="28.86" fill="#c58570"/>
<rect x="182.00" y="415.90" width="28.92" height="28.86" fill="#ba786c"/>
<rect x="182.00" y="444.76" width="28.92" height="28.86" fill="#b6766c"/>
<rect x="182.00" y="473.62" width="28.92" height="28.86" fill="#c3826f"/>
<rect x="182.00" y="502.48" width="28.92" height="28.86" fill="#be7d6c"/>
<rect x="182.00" y="531.34" width="28.92" height="28.86" fill="#c1806e"/>
<rect x="210.92" y="415.90" width="28.92" height="28.86" fill="#b5756c"/>
<rect x="210.92" y="444.76" width="28.92" height="28.86" fill="#d09176"/>
<rect x="210.92" y="473.62" width="28.92" height="28.86" fill="#b9786c"/>
<rect x="210.92" y="502.48" width="28.92" height="28.86" fill="#b9786c"/>
<rect x="210.92" y="531.34" width="28.92" height="28.86" fill="#ca8a73"/>
<rect x="239.84" y="415.90" width="28.92" height="28.86" fill="#b4746c"/>
<rect x="239.84" y="444.76" width="28.92" height="28.86" fill="#c2816e"/>
<rect x="239.84" y="473.62" width="28.92" height="28.86" fill="#be7c6c"/>
<rect x="239.84" y="502.48" width="28.92" height="28.86" fill="#c58470"/>
<rect x="239.84" y="531.34" width="28.92" height="28.86" fill="#aa6c6e"/>
<rect x="268.76" y="415.90" width="28.92" height="28.86" fill="#b5746c"/>
<rect x="268.76" y="444.76" width="28.92" height="28.86" fill="#ca8a73"/>
<rect x="268.76" y="473.62" width="28.92" height="28.86" fill="#c17f6d"/>
<rect x="268.76" y="502.48" width="28.92" height="28.86" fill="#c58470"/>
<rect x="268.76" y="531.34" width="28.92" height="28.86" fill="#ce8f75"/>
<rect x="297.68" y="415.90" width="28.92" height="28.86" fill="#ac6d6e"/>
<rect x="297.68" y="444.76" width="28.92" height="28.86" fill="#cd8d75"/>
<rect x="297.68" y="473.62" width="28.92" height="28.86" fill="#d39579"/>
<rect x="297.68" y="502.48" width="28.92" height="28.86" fill="#b2726d"/>
<rect x="297.68" y="531.34" width="28.92" height="28.86" fill="#c4836f"/>
<path d="M37.40 415.40V560.70M66.32 415.40V560.70M95.24 415.40V560.70M124.16 415.40V560.70M153.08 415.40V560.70M182.00 415.40V560.70M210.92 415.40V560.70M239.84 415.40V560.70M268.76 415.40V560.70M297.68 415.40V560.70M326.60 415.40V560.70M36.90 415.90H327.10M36.90 444.76H327.10M36.90 473.62H327.10M36.90 502.48H327.10M36.90 531.34H327.10M36.90 560.20H327.10" stroke="#2a2a2a" stroke-width="1.1" fill="none"/>
<text class="rl" x="38.60" y="423.50">R 101</text>
<text class="vl" transform="translate(51.86 433.50) scale(0.94 1)">832.5</text>
<text class="rl" x="38.60" y="452.36">R 102</text>
<text class="vl" transform="translate(51.86 462.36) scale(0.94 1)">769.9</text>
<text class="rl" x="38.60" y="481.22">R 103</text>
<text class="vl" transform="translate(51.86 491.22) scale(0.94 1)">-604.0</text>
<text class="rl" x="38.60" y="510.08">R 104</text>
<text class="vl" transform="translate(51.86 520.08) scale(0.94 1)">848.2</text>
<text class="rl" x="38.60" y="538.94">R 105</text>
<text class="vl" transform="translate(51.86 548.94) scale(0.94 1)">747.1</text>
<text class="rl" x="67.52" y="423.50">R 106</text>
<text class="vl" transform="translate(80.86 433.50) scale(0.94 1)">-593.1</text>
<text class="rl" x="67.52" y="452.36">R 107</text>
<text class="vl" transform="translate(80.86 462.36) scale(0.94 1)">851.3</text>
<text class="rl" x="67.52" y="481.22">R 108</text>
<text class="vl" transform="translate(80.86 491.22) scale(0.94 1)">674.2</text>
<text class="rl" x="67.52" y="510.08">R 109</text>
<text class="vl" transform="translate(80.86 520.08) scale(0.94 1)">864.3</text>
<text class="rl" x="67.52" y="538.94">R 110</text>
<text class="vl" transform="translate(80.86 548.94) scale(0.94 1)">786.7</text>
<text class="rl" x="96.44" y="423.50">R 111</text>
<text class="vl" transform="translate(109.86 433.50) scale(0.94 1)">-664.5</text>
<text class="rl" x="96.44" y="452.36">R 112</text>
<text class="vl" transform="translate(109.86 462.36) scale(0.94 1)">716.0</text>
<text class="rl" x="96.44" y="481.22">R 113</text>
<text class="vl" transform="translate(109.86 491.22) scale(0.94 1)">812.3</text>
<text class="rl" x="96.44" y="510.08">R 114</text>
<text class="vl" transform="translate(109.86 520.08) scale(0.94 1)">848.3</text>
<text class="rl" x="96.44" y="538.94">R 115</text>
<text class="vl" transform="translate(109.86 548.94) scale(0.94 1)">740.4</text>
<text class="rl" x="125.36" y="423.50">R 116</text>
<text class="vl" transform="translate(138.86 433.50) scale(0.94 1)">-702.5</text>
<text class="rl" x="125.36" y="452.36">R 117</text>
<text class="vl" transform="translate(138.86 462.36) scale(0.94 1)">720.9</text>
<text class="rl" x="125.36" y="481.22">R 118</text>
<text class="vl" transform="translate(138.86 491.22) scale(0.94 1)">887.5</text>
<text class="rl" x="125.36" y="510.08">R 119</text>
<text class="vl" transform="translate(138.86 520.08) scale(0.94 1)">752.0</text>
<text class="rl" x="125.36" y="538.94">R 120</text>
<text class="vl" transform="translate(138.86 548.94) scale(0.94 1)">785.4</text>
<text class="rl" x="154.28" y="423.50">R 121</text>
<text class="vl" transform="translate(167.86 433.50) scale(0.94 1)">962.9</text>
<text class="rl" x="154.28" y="452.36">R 122</text>
<text class="vl" transform="translate(167.86 462.36) scale(0.94 1)">751.5</text>
<text class="rl" x="154.28" y="481.22">R 123</text>
<text class="vl" transform="translate(167.86 491.22) scale(0.94 1)">753.0</text>
<text class="rl" x="154.28" y="510.08">R 124</text>
<text class="vl" transform="translate(167.86 520.08) scale(0.94 1)">868.6</text>
<text class="rl" x="154.28" y="538.94">R 125</text>
<text class="vl" transform="translate(167.86 548.94) scale(0.94 1)">726.7</text>
<text class="rl" x="183.20" y="423.50">R 126</text>
<text class="vl" transform="translate(196.86 433.50) scale(0.94 1)">820.0</text>
<text class="rl" x="183.20" y="452.36">R 127</text>
<text class="vl" transform="translate(196.86 462.36) scale(0.94 1)">842.4</text>
<text class="rl" x="183.20" y="481.22">R 128</text>
<text class="vl" transform="translate(196.86 491.22) scale(0.94 1)">746.8</text>
<text class="rl" x="183.20" y="510.08">R 129</text>
<text class="vl" transform="translate(196.86 520.08) scale(0.94 1)">788.3</text>
<text class="rl" x="183.20" y="538.94">R 130</text>
<text class="vl" transform="translate(196.86 548.94) scale(0.94 1)">761.7</text>
<text class="rl" x="212.12" y="423.50">R 131</text>
<text class="vl" transform="translate(225.86 433.50) scale(0.94 1)">849.1</text>
<text class="rl" x="212.12" y="452.36">R 132</text>
<text class="vl" transform="translate(225.86 462.36) scale(0.94 1)">636.5</text>
<text class="rl" x="212.12" y="481.22">R 133</text>
<text class="vl" transform="translate(225.86 491.22) scale(0.94 1)">824.3</text>
<text class="rl" x="212.12" y="510.08">R 134</text>
<text class="vl" transform="translate(225.86 520.08) scale(0.94 1)">824.0</text>
<text class="rl" x="212.12" y="538.94">R 135</text>
<text class="vl" transform="translate(225.86 548.94) scale(0.94 1)">686.8</text>
<text class="rl" x="241.04" y="423.50">R 136</text>
<text class="vl" transform="translate(254.86 433.50) scale(0.94 1)">856.4</text>
<text class="rl" x="241.04" y="452.36">R 137</text>
<text class="vl" transform="translate(254.86 462.36) scale(0.94 1)">758.1</text>
<text class="rl" x="241.04" y="481.22">R 138</text>
<text class="vl" transform="translate(254.86 491.22) scale(0.94 1)">789.8</text>
<text class="rl" x="241.04" y="510.08">R 139</text>
<text class="vl" transform="translate(254.86 520.08) scale(0.94 1)">734.1</text>
<text class="rl" x="241.04" y="538.94">R 140</text>
<text class="vl" transform="translate(254.86 548.94) scale(0.94 1)">923.2</text>
<text class="rl" x="269.96" y="423.50">R 141</text>
<text class="vl" transform="translate(283.86 433.50) scale(0.94 1)">854.8</text>
<text class="rl" x="269.96" y="452.36">R 142</text>
<text class="vl" transform="translate(283.86 462.36) scale(0.94 1)">689.3</text>
<text class="rl" x="269.96" y="481.22">R 143</text>
<text class="vl" transform="translate(283.86 491.22) scale(0.94 1)">769.1</text>
<text class="rl" x="269.96" y="510.08">R 144</text>
<text class="vl" transform="translate(283.86 520.08) scale(0.94 1)">732.2</text>
<text class="rl" x="269.96" y="538.94">R 145</text>
<text class="vl" transform="translate(283.86 548.94) scale(0.94 1)">650.2</text>
<text class="rl" x="298.88" y="423.50">R 146</text>
<text class="vl" transform="translate(312.86 433.50) scale(0.94 1)">908.7</text>
<text class="rl" x="298.88" y="452.36">R 147</text>
<text class="vl" transform="translate(312.86 462.36) scale(0.94 1)">664.2</text>
<text class="rl" x="298.88" y="481.22">R 148</text>
<text class="vl" transform="translate(312.86 491.22) scale(0.94 1)">605.8</text>
<text class="rl" x="298.88" y="510.08">R 149</text>
<text class="vl" transform="translate(312.86 520.08) scale(0.94 1)">872.0</text>
<text class="rl" x="298.88" y="538.94">R 150</text>
<text class="vl" transform="translate(312.86 548.94) scale(0.94 1)">739.5</text>
<text class="tk" text-anchor="middle" x="51.70" y="571.60">-0.4</text>
<text class="tk" text-anchor="middle" x="80.42" y="571.60">-0.8</text>
<text class="tk" text-anchor="middle" x="109.14" y="571.60">-1.2</text>
<text class="tk" text-anchor="middle" x="137.86" y="571.60">-1.6</text>
<text class="tk" text-anchor="middle" x="166.58" y="571.60">-2.0</text>
<text class="tk" text-anchor="middle" x="195.30" y="571.60">-2.4</text>
<text class="tk" text-anchor="middle" x="224.02" y="571.60">-2.8</text>
<text class="tk" text-anchor="middle" x="252.74" y="571.60">-3.2</text>
<text class="tk" text-anchor="middle" x="281.46" y="571.60">-3.6</text>
<text class="tk" text-anchor="middle" x="310.18" y="571.60">-4.0</text>
<text class="tk" text-anchor="end" x="33.20" y="432.93">1.5</text>
<text class="tk" text-anchor="end" x="33.20" y="461.79">2.0</text>
<text class="tk" text-anchor="end" x="33.20" y="490.65">2.5</text>
<text class="tk" text-anchor="end" x="33.20" y="519.51">3.0</text>
<text class="tk" text-anchor="end" x="33.20" y="548.37">3.5</text>
<text x="154.10" y="586.00" fill="#000"><tspan font-size="13.5">γ</tspan><tspan font-size="8.5" dy="4.3">660</tspan><tspan font-size="11" dx="-1.2" dy="-4.3"> (MPa/K)</tspan></text>
<text transform="translate(10.00 487.40) rotate(-90) scale(1.020)" text-anchor="middle" fill="#000"><tspan font-size="13.5">γ</tspan><tspan font-size="7.4" dy="3.6">410</tspan><tspan font-size="12" dy="-3.6"> (MPa/K)</tspan></text>
<text class="tt" x="111.90" y="409.30" style="font-size:14.17px">Δρ<tspan font-size="9.27" dy="5.45">410</tspan><tspan dy="-5.45">=5%, Δρ</tspan><tspan font-size="9.27" dy="5.45">660</tspan><tspan dy="-5.45">=7.6%</tspan></text>
<rect x="394.80" y="415.90" width="28.96" height="28.86" fill="#9e6270"/>
<rect x="394.80" y="444.76" width="28.96" height="28.86" fill="#9e6270"/>
<rect x="394.80" y="473.62" width="28.96" height="28.86" fill="#9e6270"/>
<rect x="394.80" y="502.48" width="28.96" height="28.86" fill="#9e6270"/>
<rect x="394.80" y="531.34" width="28.96" height="28.86" fill="#9e6270"/>
<rect x="423.76" y="415.90" width="28.96" height="28.86" fill="#ba786c"/>
<rect x="423.76" y="444.76" width="28.96" height="28.86" fill="#a16470"/>
<rect x="423.76" y="473.62" width="28.96" height="28.86" fill="#9e6270"/>
<rect x="423.76" y="502.48" width="28.96" height="28.86" fill="#9e6270"/>
<rect x="423.76" y="531.34" width="28.96" height="28.86" fill="#ae6f6d"/>
<rect x="452.72" y="415.90" width="28.96" height="28.86" fill="#a16470"/>
<rect x="452.72" y="444.76" width="28.96" height="28.86" fill="#ae6f6d"/>
<rect x="452.72" y="473.62" width="28.96" height="28.86" fill="#b5756c"/>
<rect x="452.72" y="502.48" width="28.96" height="28.86" fill="#9e6270"/>
<rect x="452.72" y="531.34" width="28.96" height="28.86" fill="#9e6270"/>
<rect x="481.68" y="415.90" width="28.96" height="28.86" fill="#cd8d74"/>
<rect x="481.68" y="444.76" width="28.96" height="28.86" fill="#c68670"/>
<rect x="481.68" y="473.62" width="28.96" height="28.86" fill="#a06470"/>
<rect x="481.68" y="502.48" width="28.96" height="28.86" fill="#b7766c"/>
<rect x="481.68" y="531.34" width="28.96" height="28.86" fill="#9e6270"/>
<rect x="510.64" y="415.90" width="28.96" height="28.86" fill="#c2816e"/>
<rect x="510.64" y="444.76" width="28.96" height="28.86" fill="#c07f6d"/>
<rect x="510.64" y="473.62" width="28.96" height="28.86" fill="#b1716d"/>
<rect x="510.64" y="502.48" width="28.96" height="28.86" fill="#a86a6e"/>
<rect x="510.64" y="531.34" width="28.96" height="28.86" fill="#b6756c"/>
<rect x="539.60" y="415.90" width="28.96" height="28.86" fill="#b5756c"/>
<rect x="539.60" y="444.76" width="28.96" height="28.86" fill="#c3826f"/>
<rect x="539.60" y="473.62" width="28.96" height="28.86" fill="#ca8a73"/>
<rect x="539.60" y="502.48" width="28.96" height="28.86" fill="#b7776c"/>
<rect x="539.60" y="531.34" width="28.96" height="28.86" fill="#af6f6d"/>
<rect x="568.56" y="415.90" width="28.96" height="28.86" fill="#bb7a6b"/>
<rect x="568.56" y="444.76" width="28.96" height="28.86" fill="#b8776c"/>
<rect x="568.56" y="473.62" width="28.96" height="28.86" fill="#bf7e6c"/>
<rect x="568.56" y="502.48" width="28.96" height="28.86" fill="#c17f6d"/>
<rect x="568.56" y="531.34" width="28.96" height="28.86" fill="#a3666f"/>
<rect x="597.52" y="415.90" width="28.96" height="28.86" fill="#c2816e"/>
<rect x="597.52" y="444.76" width="28.96" height="28.86" fill="#b9786c"/>
<rect x="597.52" y="473.62" width="28.96" height="28.86" fill="#c07e6d"/>
<rect x="597.52" y="502.48" width="28.96" height="28.86" fill="#dbe8ee"/>
<rect x="597.52" y="531.34" width="28.96" height="28.86" fill="#b6766c"/>
<rect x="626.48" y="415.90" width="28.96" height="28.86" fill="#b8776c"/>
<rect x="626.48" y="444.76" width="28.96" height="28.86" fill="#b7766c"/>
<rect x="626.48" y="473.62" width="28.96" height="28.86" fill="#dfe9ee"/>
<rect x="626.48" y="502.48" width="28.96" height="28.86" fill="#c88872"/>
<rect x="626.48" y="531.34" width="28.96" height="28.86" fill="#b2726d"/>
<rect x="655.44" y="415.90" width="28.96" height="28.86" fill="#f2e4da"/>
<rect x="655.44" y="444.76" width="28.96" height="28.86" fill="#a7696f"/>
<rect x="655.44" y="473.62" width="28.96" height="28.86" fill="#f3e7df"/>
<rect x="655.44" y="502.48" width="28.96" height="28.86" fill="#669ec2"/>
<rect x="655.44" y="531.34" width="28.96" height="28.86" fill="#bb796b"/>
<path d="M394.80 415.40V560.70M423.76 415.40V560.70M452.72 415.40V560.70M481.68 415.40V560.70M510.64 415.40V560.70M539.60 415.40V560.70M568.56 415.40V560.70M597.52 415.40V560.70M626.48 415.40V560.70M655.44 415.40V560.70M684.40 415.40V560.70M394.30 415.90H684.90M394.30 444.76H684.90M394.30 473.62H684.90M394.30 502.48H684.90M394.30 531.34H684.90M394.30 560.20H684.90" stroke="#2a2a2a" stroke-width="1.1" fill="none"/>
<text class="rl" x="396.00" y="423.50">R 251</text>
<text class="vl" transform="translate(409.28 433.10) scale(0.94 1)">1106.1</text>
<text class="rl" x="396.00" y="452.36">R 252</text>
<text class="vl" transform="translate(409.28 461.96) scale(0.94 1)">1024.3</text>
<text class="rl" x="396.00" y="481.22">R 253</text>
<text class="vl" transform="translate(409.28 490.82) scale(0.94 1)">1159.2</text>
<text class="rl" x="396.00" y="510.08">R 254</text>
<text class="vl" transform="translate(409.28 519.68) scale(0.94 1)">1184.9</text>
<text class="rl" x="396.00" y="538.94">R 255</text>
<text class="vl" transform="translate(409.28 548.54) scale(0.94 1)">1221.0</text>
<text class="rl" x="424.96" y="423.50">R 256</text>
<text class="vl" transform="translate(438.32 433.10) scale(0.94 1)">820.1</text>
<text class="rl" x="424.96" y="452.36">R 257</text>
<text class="vl" transform="translate(438.32 461.96) scale(0.94 1)">983.4</text>
<text class="rl" x="424.96" y="481.22">R 258</text>
<text class="vl" transform="translate(438.32 490.82) scale(0.94 1)">1169.4</text>
<text class="rl" x="424.96" y="510.08">R 259</text>
<text class="vl" transform="translate(438.32 519.68) scale(0.94 1)">1014.4</text>
<text class="rl" x="424.96" y="538.94">R 260</text>
<text class="vl" transform="translate(438.32 548.54) scale(0.94 1)">895.1</text>
<text class="rl" x="453.92" y="423.50">R 261</text>
<text class="vl" transform="translate(467.36 433.10) scale(0.94 1)">980.2</text>
<text class="rl" x="453.92" y="452.36">R 262</text>
<text class="vl" transform="translate(467.36 461.96) scale(0.94 1)">896.3</text>
<text class="rl" x="453.92" y="481.22">R 263</text>
<text class="vl" transform="translate(467.36 490.82) scale(0.94 1)">849.1</text>
<text class="rl" x="453.92" y="510.08">R 264</text>
<text class="vl" transform="translate(467.36 519.68) scale(0.94 1)">1084.8</text>
<text class="rl" x="453.92" y="538.94">R 265</text>
<text class="vl" transform="translate(467.36 548.54) scale(0.94 1)">1211.0</text>
<text class="rl" x="482.88" y="423.50">R 266</text>
<text class="vl" transform="translate(496.40 433.10) scale(0.94 1)">664.6</text>
<text class="rl" x="482.88" y="452.36">R 267</text>
<text class="vl" transform="translate(496.40 461.96) scale(0.94 1)">721.9</text>
<text class="rl" x="482.88" y="481.22">R 268</text>
<text class="vl" transform="translate(496.40 490.82) scale(0.94 1)">984.1</text>
<text class="rl" x="482.88" y="510.08">R 269</text>
<text class="vl" transform="translate(496.40 519.68) scale(0.94 1)">836.6</text>
<text class="rl" x="482.88" y="538.94">R 270</text>
<text class="vl" transform="translate(496.40 548.54) scale(0.94 1)">1069.8</text>
<text class="rl" x="511.84" y="423.50">R 271</text>
<text class="vl" transform="translate(525.44 433.10) scale(0.94 1)">756.1</text>
<text class="rl" x="511.84" y="452.36">R 272</text>
<text class="vl" transform="translate(525.44 461.96) scale(0.94 1)">774.0</text>
<text class="rl" x="511.84" y="481.22">R 273</text>
<text class="vl" transform="translate(525.44 490.82) scale(0.94 1)">880.4</text>
<text class="rl" x="511.84" y="510.08">R 274</text>
<text class="vl" transform="translate(525.44 519.68) scale(0.94 1)">935.8</text>
<text class="rl" x="511.84" y="538.94">R 275</text>
<text class="vl" transform="translate(525.44 548.54) scale(0.94 1)">845.5</text>
<text class="rl" x="540.80" y="423.50">R 276</text>
<text class="vl" transform="translate(554.48 433.10) scale(0.94 1)">851.3</text>
<text class="rl" x="540.80" y="452.36">R 277</text>
<text class="vl" transform="translate(554.48 461.96) scale(0.94 1)">749.5</text>
<text class="rl" x="540.80" y="481.22">R 278</text>
<text class="vl" transform="translate(554.48 490.82) scale(0.94 1)">688.5</text>
<text class="rl" x="540.80" y="510.08">R 279</text>
<text class="vl" transform="translate(554.48 519.68) scale(0.94 1)">835.7</text>
<text class="rl" x="540.80" y="538.94">R 280</text>
<text class="vl" transform="translate(554.48 548.54) scale(0.94 1)">892.5</text>
<text class="rl" x="569.76" y="423.50">R 281</text>
<text class="vl" transform="translate(583.52 433.10) scale(0.94 1)">809.9</text>
<text class="rl" x="569.76" y="452.36">R 282</text>
<text class="vl" transform="translate(583.52 461.96) scale(0.94 1)">833.3</text>
<text class="rl" x="569.76" y="481.22">R 283</text>
<text class="vl" transform="translate(583.52 490.82) scale(0.94 1)">779.5</text>
<text class="rl" x="569.76" y="510.08">R 284</text>
<text class="vl" transform="translate(583.52 519.68) scale(0.94 1)">768.9</text>
<text class="rl" x="569.76" y="538.94">R 285</text>
<text class="vl" transform="translate(583.52 548.54) scale(0.94 1)">965.1</text>
<text class="rl" x="598.72" y="423.50">R 286</text>
<text class="vl" transform="translate(612.56 433.10) scale(0.94 1)">754.0</text>
<text class="rl" x="598.72" y="452.36">R 287</text>
<text class="vl" transform="translate(612.56 461.96) scale(0.94 1)">827.7</text>
<text class="rl" x="598.72" y="481.22">R 288</text>
<text class="vl" transform="translate(612.56 490.82) scale(0.94 1)">777.8</text>
<text class="rl" x="598.72" y="510.08">R 289</text>
<text class="vl" transform="translate(612.56 519.68) scale(0.94 1)">-119.6</text>
<text class="rl" x="598.72" y="538.94">R 290</text>
<text class="vl" transform="translate(612.56 548.54) scale(0.94 1)">842.5</text>
<text class="rl" x="627.68" y="423.50">R 291</text>
<text class="vl" transform="translate(641.60 433.10) scale(0.94 1)">831.8</text>
<text class="rl" x="627.68" y="452.36">R 292</text>
<text class="vl" transform="translate(641.60 461.96) scale(0.94 1)">840.7</text>
<text class="rl" x="627.68" y="481.22">R 293</text>
<text class="vl" transform="translate(641.60 490.82) scale(0.94 1)">-101.5</text>
<text class="rl" x="627.68" y="510.08">R 294</text>
<text class="vl" transform="translate(641.60 519.68) scale(0.94 1)">702.6</text>
<text class="rl" x="627.68" y="538.94">R 295</text>
<text class="vl" transform="translate(641.60 548.54) scale(0.94 1)">868.2</text>
<text class="rl" x="656.64" y="423.50">R 296</text>
<text class="vl" transform="translate(670.64 433.10) scale(0.94 1)">112.4</text>
<text class="rl" x="656.64" y="452.36">R 297</text>
<text class="vl" transform="translate(670.64 461.96) scale(0.94 1)">940.1</text>
<text class="rl" x="656.64" y="481.22">R 298</text>
<text class="vl" transform="translate(670.64 490.82) scale(0.94 1)">90.4</text>
<text class="rl" x="656.64" y="510.08">R 299</text>
<text class="vl" transform="translate(670.64 519.68) scale(0.94 1)">-601.0</text>
<text class="rl" x="656.64" y="538.94">R 300</text>
<text class="vl" transform="translate(670.64 548.54) scale(0.94 1)">813.3</text>
<text class="tk" text-anchor="middle" x="411.90" y="571.00">-0.4</text>
<text class="tk" text-anchor="middle" x="440.62" y="571.00">-0.8</text>
<text class="tk" text-anchor="middle" x="469.34" y="571.00">-1.2</text>
<text class="tk" text-anchor="middle" x="498.06" y="571.00">-1.6</text>
<text class="tk" text-anchor="middle" x="526.78" y="571.00">-2.0</text>
<text class="tk" text-anchor="middle" x="555.50" y="571.00">-2.4</text>
<text class="tk" text-anchor="middle" x="584.22" y="571.00">-2.8</text>
<text class="tk" text-anchor="middle" x="612.94" y="571.00">-3.2</text>
<text class="tk" text-anchor="middle" x="641.66" y="571.00">-3.6</text>
<text class="tk" text-anchor="middle" x="670.38" y="571.00">-4.0</text>
<text class="tk" text-anchor="end" x="389.80" y="432.93">1.5</text>
<text class="tk" text-anchor="end" x="389.80" y="461.79">2.0</text>
<text class="tk" text-anchor="end" x="389.80" y="490.65">2.5</text>
<text class="tk" text-anchor="end" x="389.80" y="519.51">3.0</text>
<text class="tk" text-anchor="end" x="389.80" y="548.37">3.5</text>
<text x="508.10" y="586.00" fill="#000"><tspan font-size="13.5">γ</tspan><tspan font-size="8.5" dy="4.3">660</tspan><tspan font-size="11" dx="-1.2" dy="-4.3"> (MPa/K)</tspan></text>
<text transform="translate(366.30 486.85) rotate(-90) scale(1.020)" text-anchor="middle" fill="#000"><tspan font-size="13.5">γ</tspan><tspan font-size="7.4" dy="3.6">410</tspan><tspan font-size="12" dy="-3.6"> (MPa/K)</tspan></text>
<text class="tt" x="472.40" y="409.30" style="font-size:13.00px">Δρ<tspan font-size="8.50" dy="5.00">410</tspan><tspan dy="-5.00">=3%, Δρ</tspan><tspan font-size="8.50" dy="5.00">660</tspan><tspan dy="-5.00">=9.6%</tspan></text>
<defs><linearGradient id="cb" x1="0" x2="1" y1="0" y2="0"><stop offset="0.0000" stop-color="#6a6ca0"/><stop offset="0.1000" stop-color="#6a86ad"/><stop offset="0.2000" stop-color="#669ec2"/><stop offset="0.3000" stop-color="#94c0d6"/><stop offset="0.4000" stop-color="#cae0eb"/><stop offset="0.5000" stop-color="#f5f3f2"/><stop offset="0.6000" stop-color="#f0d8c8"/><stop offset="0.7000" stop-color="#e4b79f"/><stop offset="0.8000" stop-color="#d49679"/><stop offset="0.9000" stop-color="#bd7b6b"/><stop offset="1.0000" stop-color="#9e6270"/></linearGradient></defs>
<rect x="149.70" y="606.40" width="440.70" height="8.00" fill="url(#cb)" stroke="#2a2a2a" stroke-width="1"/>
<text x="146.40" y="624.60" font-size="11" text-anchor="middle" fill="#000">-1000</text>
<text x="190.66" y="624.60" font-size="11" text-anchor="middle" fill="#000">-800</text>
<text x="234.92" y="624.60" font-size="11" text-anchor="middle" fill="#000">-600</text>
<text x="279.18" y="624.60" font-size="11" text-anchor="middle" fill="#000">-400</text>
<text x="323.44" y="624.60" font-size="11" text-anchor="middle" fill="#000">-200</text>
<text x="367.70" y="624.60" font-size="11" text-anchor="middle" fill="#000">0</text>
<text x="411.96" y="624.60" font-size="11" text-anchor="middle" fill="#000">200</text>
<text x="456.22" y="624.60" font-size="11" text-anchor="middle" fill="#000">400</text>
<text x="500.48" y="624.60" font-size="11" text-anchor="middle" fill="#000">600</text>
<text x="544.74" y="624.60" font-size="11" text-anchor="middle" fill="#000">800</text>
<text x="589.00" y="624.60" font-size="11" text-anchor="middle" fill="#000">1000</text>
<path d="M193.77 614.40V612.00M237.84 614.40V612.00M281.91 614.40V612.00M325.98 614.40V612.00M370.05 614.40V612.00M414.12 614.40V612.00M458.19 614.40V612.00M502.26 614.40V612.00M546.33 614.40V612.00" stroke="#2a2a2a" stroke-width="1"/>
<text x="306.9" y="600.8" font-size="12.5" fill="#000">Topography change (m)</text>
</svg>
</body></html>
